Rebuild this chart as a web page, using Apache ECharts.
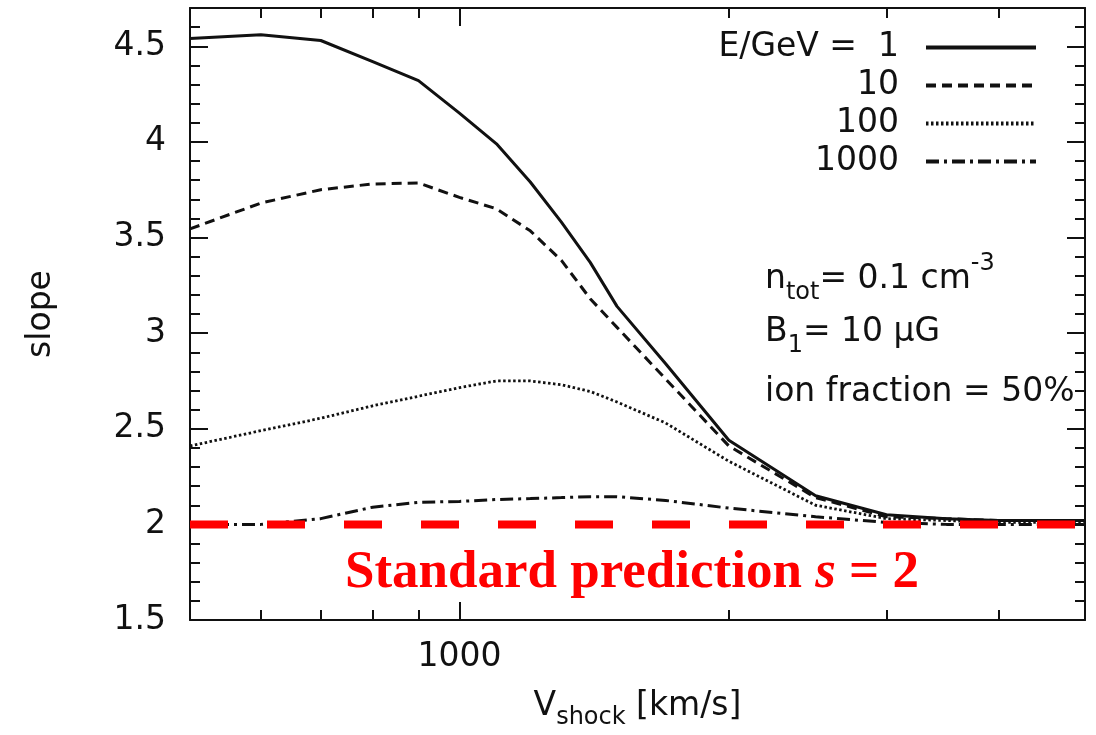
<!DOCTYPE html>
<html>
<head>
<meta charset="utf-8">
<script src="https://cdn.jsdelivr.net/npm/echarts@6/dist/echarts.min.js"></script>
<style>
html,body{margin:0;padding:0;background:#fff;}
#chart{width:1096px;height:735px;}
</style>
</head>
<body>
<div id="chart"></div>
<script>
// ---- data ----
const velocity = [500, 600, 700, 800, 900, 1000, 1100, 1200, 1300, 1400, 1500, 1700, 2000, 2500, 3000, 3500, 4000, 5000];
const slopeE1    = [4.54, 4.56, 4.53, 4.42, 4.32, 4.15, 3.99, 3.79, 3.58, 3.37, 3.14, 2.84, 2.44, 2.15, 2.05, 2.03, 2.02, 2.02];
const slopeE10   = [3.545, 3.68, 3.75, 3.78, 3.785, 3.71, 3.65, 3.535, 3.38, 3.18, 3.03, 2.76, 2.41, 2.14, 2.04, 2.03, 2.02, 2.02];
const slopeE100  = [2.41, 2.49, 2.555, 2.62, 2.67, 2.715, 2.75, 2.75, 2.73, 2.695, 2.64, 2.53, 2.33, 2.10, 2.03, 2.02, 2.01, 2.01];
const slopeE1000 = [2.0, 2.0, 2.03, 2.09, 2.115, 2.12, 2.13, 2.135, 2.14, 2.145, 2.145, 2.125, 2.085, 2.04, 2.01, 2.0, 2.0, 2.0];
const seriesNames = ['E/GeV =  1', '10', '100', '1000'];
const standardSlope = 2;
const standardRange = [500, 5000];
const xMajorTicks = [1000];
const xMinorTicks = [600, 700, 800, 900, 2000, 3000, 4000];
const yMajorTicks = [1.5, 2, 2.5, 3, 3.5, 4, 4.5];
const yMinorTicks = [1.6,1.7,1.8,1.9,2.1,2.2,2.3,2.4,2.6,2.7,2.8,2.9,3.1,3.2,3.3,3.4,3.6,3.7,3.8,3.9,4.1,4.2,4.3,4.4,4.6];

const FONT = 'DejaVu Sans';
const INK = '#111';
const chart = echarts.init(document.getElementById('chart'));

function pairs(ys){ return velocity.map((v,i)=>[v, ys[i]]); }

function xAx(pos, ticks, len, showLine, showLabel, extra){
  return Object.assign({
    type:'log', logBase:10, min:500, max:5000, position:pos, gridIndex:0,
    axisLine:{show:showLine, lineStyle:{color:INK, width:2}},
    axisTick:{show:true, inside:true, length:len, customValues:ticks, lineStyle:{color:INK, width:2}},
    axisLabel:{show:showLabel, customValues:ticks, fontFamily:FONT, fontSize:33, color:INK, margin:21,
               formatter:function(v){return String(Math.round(v));}},
    splitLine:{show:false}, minorTick:{show:false}, minorSplitLine:{show:false}
  }, extra||{});
}
function yAx(pos, ticks, len, showLine, showLabel, extra){
  return Object.assign({
    type:'value', min:1.5, max:4.7, position:pos, gridIndex:0,
    axisLine:{show:showLine, lineStyle:{color:INK, width:2}},
    axisTick:{show:true, inside:true, length:len, customValues:ticks, lineStyle:{color:INK, width:2}},
    axisLabel:{show:showLabel, customValues:ticks, fontFamily:FONT, fontSize:33, color:INK, margin:24},
    splitLine:{show:false}
  }, extra||{});
}

const option = {
  animation:false,
  backgroundColor:'#fff',
  grid:{left:190, right:11, top:8, bottom:113, containLabel:false},
  legend:{
    data:seriesNames,
    orient:'vertical', align:'right', right:58, top:31, padding:0,
    itemWidth:110, itemHeight:14, itemGap:5,
    itemStyle:{opacity:0, borderWidth:0},
    lineStyle:{width:4},
    textStyle:{fontFamily:FONT, fontSize:33, color:INK, lineHeight:32, padding:[0,22,0,0]},
    selectedMode:false
  },
  xAxis:[
    xAx('bottom', xMajorTicks, 18, true, true, {
      name:'{a|V}{b|shock}{a| [km/s]}', nameLocation:'middle', nameGap:70,
      nameTextStyle:{rich:{
        a:{fontFamily:FONT, fontSize:33, color:INK, verticalAlign:'top', lineHeight:40},
        b:{fontFamily:FONT, fontSize:24, color:INK, verticalAlign:'top', lineHeight:40, padding:[16,0,0,0]}
      }}
    }),
    xAx('bottom', xMinorTicks, 10, false, false),
    xAx('top', xMajorTicks, 18, true, false),
    xAx('top', xMinorTicks, 10, false, false)
  ],
  yAxis:[
    yAx('left', yMajorTicks, 18, true, true, {
      name:'slope', nameLocation:'middle', nameGap:132, nameRotate:90,
      nameTextStyle:{fontFamily:FONT, fontSize:33, color:INK}
    }),
    yAx('left', yMinorTicks, 10, false, false),
    yAx('right', yMajorTicks, 18, true, false),
    yAx('right', yMinorTicks, 10, false, false)
  ],
  series:[
    {name:seriesNames[0], type:'line', data:pairs(slopeE1), symbol:'none', z:3,
     lineStyle:{color:INK, width:3, type:'solid'}, itemStyle:{color:INK}},
    {name:seriesNames[1], type:'line', data:pairs(slopeE10), symbol:'none', z:3,
     lineStyle:{color:INK, width:3, type:[10,6]}, itemStyle:{color:INK}},
    {name:seriesNames[2], type:'line', data:pairs(slopeE100), symbol:'none', z:3,
     lineStyle:{color:INK, width:2.8, type:[2.5,2.5]}, itemStyle:{color:INK}},
    {name:seriesNames[3], type:'line', data:pairs(slopeE1000), symbol:'none', z:3,
     lineStyle:{color:INK, width:3, type:[13,5,3,5]}, itemStyle:{color:INK}},
    {name:'standard', type:'line', data:standardRange.map(v=>[v, standardSlope]), symbol:'none', z:5,
     lineStyle:{color:'#ff0000', width:8, type:[38,39]}, silent:true}
  ],
  graphic:[
    {type:'text', left:765, top:252, style:{
      text:'{n|n}{s|tot}{n|= 0.1 cm}{p|-3}',
      rich:{
        n:{fontFamily:FONT, fontSize:33, fill:INK, verticalAlign:'bottom', lineHeight:44},
        s:{fontFamily:FONT, fontSize:24, fill:INK, verticalAlign:'bottom', lineHeight:44, padding:[0,0,-9,0]},
        p:{fontFamily:FONT, fontSize:24, fill:INK, verticalAlign:'top', lineHeight:44, padding:[0,0,22,0]}
      }}},
    {type:'text', left:765, top:316, style:{
      text:'{n|B}{s|1}{n|= 10 \u00b5G}',
      rich:{
        n:{fontFamily:FONT, fontSize:33, fill:INK, verticalAlign:'bottom', lineHeight:40},
        s:{fontFamily:FONT, fontSize:24, fill:INK, verticalAlign:'bottom', lineHeight:40, padding:[0,0,-9,0]}
      }}},
    {type:'text', left:765, top:376, style:{
      text:'ion fraction = 50%', fontFamily:FONT, fontSize:33, fill:INK}},
    {type:'text', x:632, y:573, style:{
      text:'{a|Standard prediction }{i|s}{a| = 2}', align:'center', verticalAlign:'middle',
      rich:{
        a:{fontFamily:'Liberation Serif', fontWeight:'bold', fontSize:53, fill:'#ff0000'},
        i:{fontFamily:'Liberation Serif', fontWeight:'bold', fontStyle:'italic', fontSize:53, fill:'#ff0000'}
      }}}
  ]
};
chart.setOption(option);
</script>
</body>
</html>
